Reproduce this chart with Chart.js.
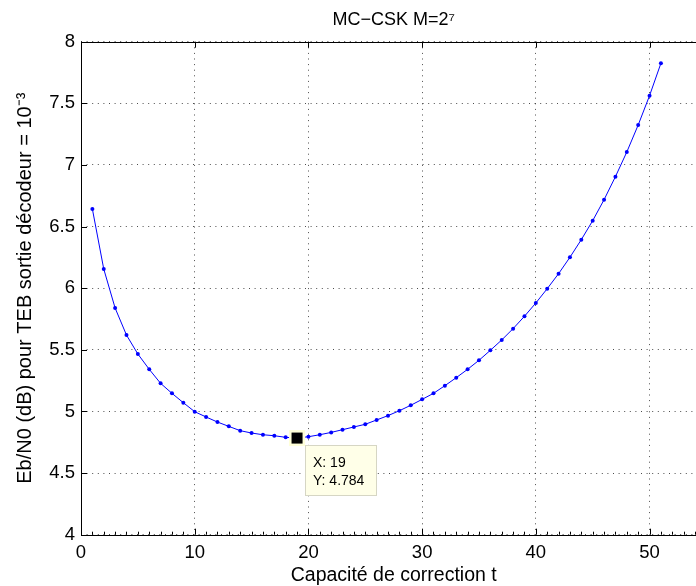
<!DOCTYPE html>
<html>
<head>
<meta charset="utf-8">
<script src="https://cdn.jsdelivr.net/npm/chart.js@4.4.1/dist/chart.umd.min.js"></script>
<style>
  html, body { margin: 0; padding: 0; overflow: hidden; background: #fff; width: 696px; height: 586px; }
  #wrap { position: absolute; left: 0; top: 0; width: 720px; height: 586px; }
</style>
</head>
<body>
<div id="wrap"><canvas id="c" width="720" height="586"></canvas></div>
<script>
// ---- data ----
const correctionT = [1,2,3,4,5,6,7,8,9,10,11,12,13,14,15,16,17,18,19,20,21,22,23,24,25,26,27,28,29,30,31,32,33,34,35,36,37,38,39,40,41,42,43,44,45,46,47,48,49,50,51];
const ebN0 = [6.643,6.156,5.839,5.620,5.466,5.342,5.228,5.147,5.071,4.998,4.955,4.914,4.879,4.844,4.825,4.811,4.803,4.790,4.784,4.795,4.811,4.830,4.852,4.874,4.896,4.931,4.966,5.006,5.050,5.098,5.147,5.209,5.274,5.342,5.415,5.496,5.580,5.672,5.772,5.880,5.996,6.118,6.251,6.394,6.548,6.718,6.905,7.105,7.324,7.562,7.825];
const xTicks = [0,10,20,30,40,50];
const yTicks = [4,4.5,5,5.5,6,6.5,7,7.5,8];
const titleText = 'MC\u2212CSK M=2\u2077';
const xTitle = 'Capacité de correction t';
const yTitle = 'Eb/N0 (dB) pour TEB sortie décodeur = 10\u207B\u00B3';
const tipIndex = 18; // data tip at t = 19

const FONT = 'Liberation Sans, Arial, Helvetica, sans-serif';

const points = correctionT.map((t, i) => ({x: t, y: ebN0[i]}));

const boxPlugin = {
  id: 'matlabBox',
  afterDatasetsDraw(chart) {
    const {ctx, chartArea: a, scales: {x, y}} = chart;
    ctx.save();
    ctx.strokeStyle = '#000';
    ctx.lineWidth = 1;
    // axis box (left, bottom, top; right edge is outside the window)
    ctx.beginPath();
    ctx.moveTo(a.right, Math.round(a.top) + 0.5);
    ctx.lineTo(Math.round(a.left) + 0.5, Math.round(a.top) + 0.5);
    ctx.lineTo(Math.round(a.left) + 0.5, Math.round(a.bottom) + 0.5);
    ctx.lineTo(a.right, Math.round(a.bottom) + 0.5);
    ctx.lineTo(a.right, Math.round(a.top) + 0.5);
    ctx.stroke();
    // major ticks inward
    ctx.beginPath();
    xTicks.forEach(v => {
      const px = Math.round(x.getPixelForValue(v)) + 0.5;
      ctx.moveTo(px, a.bottom); ctx.lineTo(px, a.bottom - 6);
      ctx.moveTo(px, a.top); ctx.lineTo(px, a.top + 6);
    });
    yTicks.forEach(v => {
      const py = Math.round(y.getPixelForValue(v)) + 0.5;
      ctx.moveTo(a.left, py); ctx.lineTo(a.left + 6, py);
    });
    ctx.stroke();
    // minor ticks on bottom axis
    ctx.beginPath();
    for (let v = 1; v < 55; v++) {
      if (v % 10 === 0) continue;
      const px = Math.round(x.getPixelForValue(v)) + 0.5;
      ctx.moveTo(px, a.bottom); ctx.lineTo(px, a.bottom - 3);
    }
    ctx.stroke();

    // data tip
    const tx = correctionT[tipIndex], ty = ebN0[tipIndex];
    const px = x.getPixelForValue(tx), py = y.getPixelForValue(ty);
    ctx.fillStyle = '#ffffd8';
    ctx.fillRect(px - 8, py - 8, 16, 16);
    ctx.fillStyle = '#000';
    ctx.fillRect(px - 5.5, py - 5.5, 11, 11);
    const bx = Math.round(px + 7.5) + 0.5, by = Math.round(py + 6.5) + 0.5;
    ctx.fillStyle = '#ffffe8';
    ctx.fillRect(bx, by, 71, 50);
    ctx.strokeStyle = '#d6d6c4';
    ctx.strokeRect(bx, by, 71, 50);
    ctx.fillStyle = '#000';
    ctx.font = '14px ' + FONT;
    ctx.textBaseline = 'alphabetic';
    ctx.textAlign = 'left';
    ctx.fillText('X: ' + tx, bx + 7.5, by + 21);
    ctx.fillText('Y: ' + ty.toFixed(3), bx + 7.5, by + 39.3);
    ctx.restore();
  }
};

new Chart(document.getElementById('c'), {
  type: 'line',
  data: {
    datasets: [{
      data: points,
      borderColor: '#0000ff',
      backgroundColor: '#0000ff',
      borderWidth: 1,
      pointRadius: 2,
      pointBorderWidth: 0,
      pointBackgroundColor: '#0000ff',
      tension: 0,
      fill: false
    }]
  },
  options: {
    responsive: false,
    animation: false,
    devicePixelRatio: 1,
    layout: { padding: { left: 0, right: 13.6, top: 0, bottom: 0 } },
    plugins: { legend: { display: false }, tooltip: { enabled: false }, title: { display: false } },
    scales: {
      x: {
        type: 'linear', position: 'bottom', min: 0, max: 55,
        afterBuildTicks: s => { s.ticks = xTicks.map(v => ({value: v})); },
        ticks: { font: { family: FONT, size: 18.5 }, color: '#000', padding: 7, maxRotation: 0, autoSkip: false,
                 callback: v => String(v) },
        grid: { color: 'rgba(0,0,0,0.7)', lineWidth: 1, drawTicks: false },
        border: { display: false, dash: [1, 4.6] },
        title: { display: true, text: xTitle, color: '#000', font: { family: FONT, size: 19.5, lineHeight: 1 }, padding: { top: 0, bottom: 1 } },
        afterFit: s => { s.height = 51.3; }
      },
      xTop: {
        type: 'linear', position: 'top', min: 0, max: 55,
        ticks: { display: false },
        grid: { display: false, drawTicks: false },
        border: { display: false },
        title: { display: true, text: titleText, color: '#000', font: { family: FONT, size: 18 }, padding: { top: 9.5, bottom: 0 } },
        afterFit: s => { s.height = 41.7; }
      },
      y: {
        type: 'linear', position: 'left', min: 4, max: 8,
        afterBuildTicks: s => { s.ticks = yTicks.map(v => ({value: v})); },
        ticks: { font: { family: FONT, size: 18.5 }, color: '#000', padding: 6, autoSkip: false,
                 callback: v => String(v) },
        grid: { color: 'rgba(0,0,0,0.7)', lineWidth: 1, drawTicks: false },
        border: { display: false, dash: [1, 4.6] },
        title: { display: true, text: yTitle, color: '#000', font: { family: FONT, size: 20, lineHeight: 1 }, padding: { top: 15, bottom: 0 } },
        afterFit: s => { s.width = 81; }
      }
    }
  },
  plugins: [boxPlugin]
});
</script>
</body>
</html>
